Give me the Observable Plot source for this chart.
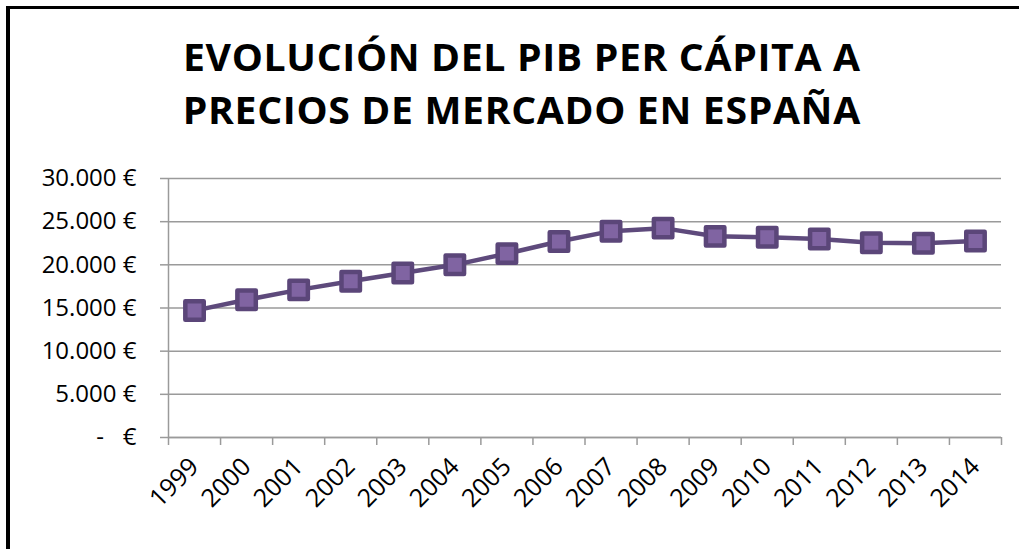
<!DOCTYPE html>
<html>
<head>
<meta charset="utf-8">
<script src="https://cdn.jsdelivr.net/npm/d3@7"></script>
<script src="https://cdn.jsdelivr.net/npm/@observablehq/plot@0.6"></script>
<style>
  html, body { margin: 0; padding: 0; background: #fff; }
  #wrap { position: relative; width: 1019px; height: 549px; overflow: hidden; background: #fff; }
  #frame { position: absolute; left: 6px; top: 6px; right: -10px; bottom: -10px;
           border-top: 3px solid #000; border-left: 4px solid #000; pointer-events: none; }
  #title { box-sizing: border-box; height: 150px; padding-top: 30px; padding-left: 24px;
           text-align: center; font-family: "Open Sans", sans-serif; font-weight: 700;
           font-size: 37px; line-height: 53px; letter-spacing: 0.6px; color: #000; }
  #title span { display: inline-block; transform: scaleX(1.06); transform-origin: 50% 50%; }
  svg { display: block; }
</style>
</head>
<body>
<div id="wrap">
  <div id="title"><span>EVOLUCIÓN DEL PIB PER CÁPITA A<br>PRECIOS DE MERCADO EN ESPAÑA</span></div>
  <div id="chart"></div>
  <div id="frame"></div>
</div>
<script>
const years = [1999, 2000, 2001, 2002, 2003, 2004, 2005, 2006, 2007, 2008, 2009, 2010, 2011, 2012, 2013, 2014];
const pib = [14700, 15950, 17100, 18100, 19050, 20000, 21300, 22700, 23900, 24250, 23300, 23200, 23000, 22550, 22500, 22750];
const yTicks = [0, 5000, 10000, 15000, 20000, 25000, 30000];

const data = years.map((y, i) => ({year: y, value: pib[i]}));
const boundaries = years.map(y => y - 0.5).concat([years[years.length - 1] + 0.5]);

const fmtNum = d3.format(",");
const yFormat = d => d === 0 ? "-\u00a0\u00a0\u00a0€" : fmtNum(d).replace(/,/g, ".") + "\u00a0€";

const gridColor = "#9a9a9a";

const chart = Plot.plot({
  width: 1019,
  height: 399,
  marginTop: 28,
  marginBottom: 112,
  marginLeft: 168,
  marginRight: 18,
  style: {fontFamily: "'Open Sans', sans-serif", fontSize: "24px", color: "#000", background: "transparent"},
  x: {domain: [boundaries[0], boundaries[boundaries.length - 1]], axis: null},
  y: {domain: [0, 30000], axis: null},
  marks: [
    Plot.gridY(yTicks, {stroke: gridColor, strokeOpacity: 1, strokeWidth: 1.5}),
    Plot.ruleX([boundaries[0]], {stroke: gridColor, strokeWidth: 1.5}),
    Plot.axisY({ticks: yTicks, tickFormat: yFormat, tickSize: 8, tickPadding: 24, label: null,
                stroke: gridColor, strokeWidth: 1.5, fontSize: 24, fill: "#000"}),
    Plot.axisX({ticks: boundaries, tickFormat: () => "", tickSize: 8, label: null,
                stroke: gridColor, strokeWidth: 1.5}),
    Plot.axisX({ticks: years, tickFormat: d => String(d), tickSize: 0, tickPadding: 25, label: null,
                tickRotate: -45, fontSize: 25, fill: "#000"}),
    Plot.ruleY([0], {stroke: gridColor, strokeWidth: 1.5}),
    Plot.line(data, {x: "year", y: "value", stroke: "#5e4a7c", strokeWidth: 4.5}),
    Plot.dot(data, {x: "year", y: "value", symbol: "square", r: 10.4,
                    fill: "#8064a2", stroke: "#5b4679", strokeWidth: 4.5, strokeLinejoin: "round"})
  ]
});
document.getElementById("chart").appendChild(chart);
</script>
</body>
</html>
